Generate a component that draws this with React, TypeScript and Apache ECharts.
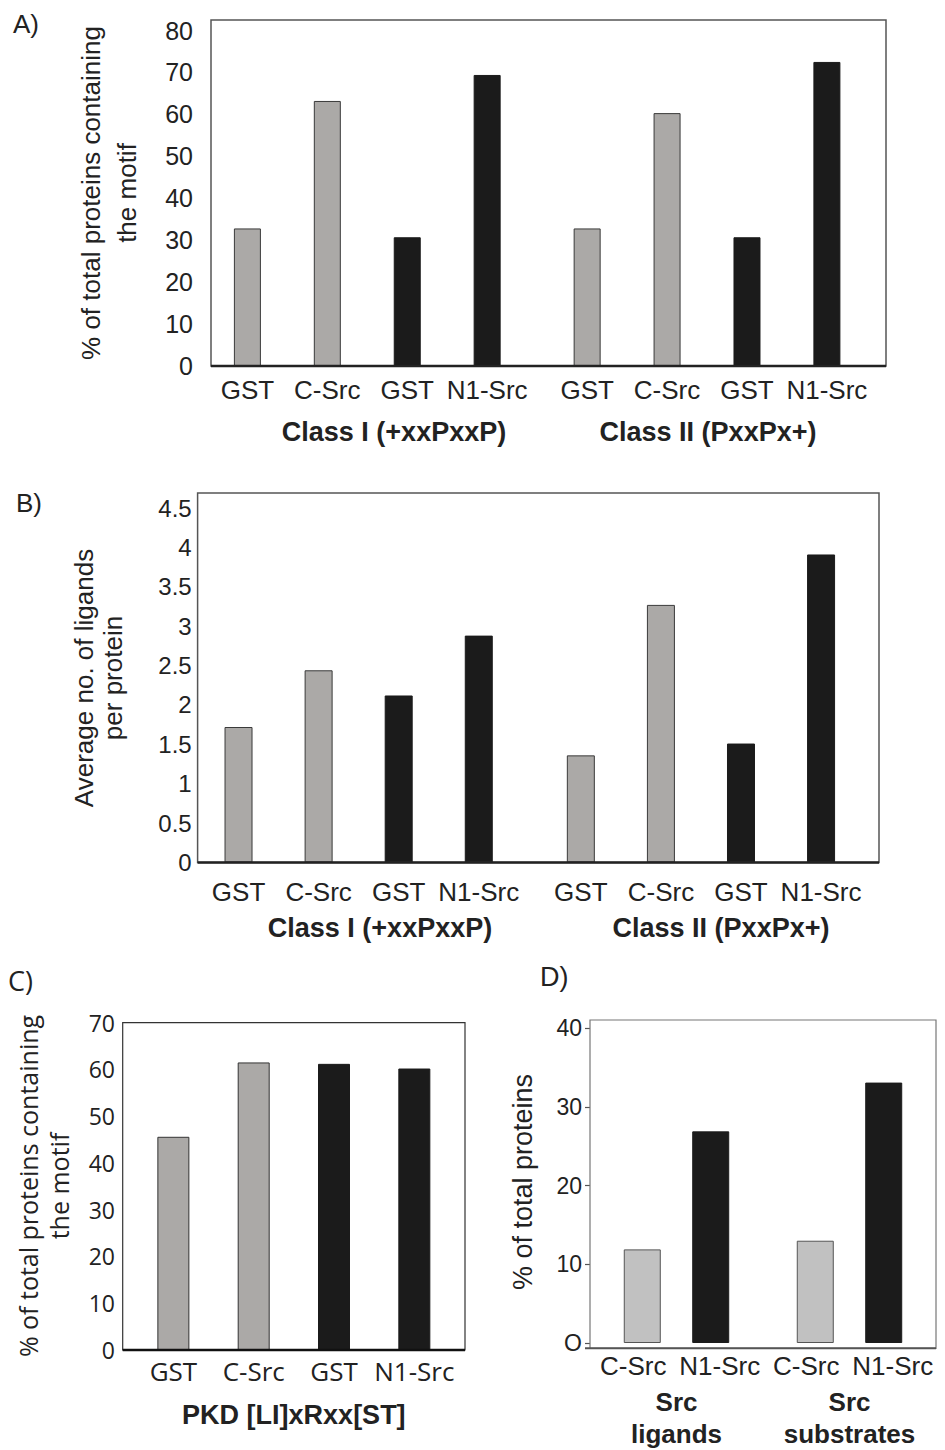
import React, { useEffect, useRef } from "react";
import * as echarts from "echarts";

// ---------- data ----------
const classGroups = ["Class I (+xxPxxP)", "Class II (PxxPx+)"];
const abBarNames = ["GST", "C-Src", "GST", "N1-Src"];

// Panel A: % of total proteins containing the motif
const aGstGray = [32.8, 32.8];
const aCSrc = [63.2, 60.3];
const aGstBlack = [30.7, 30.7];
const aN1Src = [69.4, 72.5];

// Panel B: average no. of ligands per protein
const bGstGray = [1.72, 1.36];
const bCSrc = [2.44, 3.27];
const bGstBlack = [2.12, 1.51];
const bN1Src = [2.88, 3.91];

// Panel C: PKD motif
const cGroup = ["PKD [LI]xRxx[ST]"];
const cGstGray = [45.6];
const cCSrc = [61.5];
const cGstBlack = [61.2];
const cN1Src = [60.2];

// Panel D: Src ligands / substrates
const dGroups = ["Src\nligands", "Src\nsubstrates"];
const dBarNames = ["C-Src", "N1-Src", "C-Src", "N1-Src"];
const dCSrc = [11.9, 13.0];
const dN1Src = [26.9, 33.1];

// ---------- styling ----------
const SANS = "'Liberation Sans', Arial, Helvetica, sans-serif";
const OPEN = "'Open Sans', 'Noto Sans', sans-serif";
const TXT = "#222";
const GRAY = "#aba9a7";
const BLACK = "#1b1b1b";
const DGRAY = "#c1c1c1";

function barSeries(
  idx: number,
  data: number[],
  color: string,
  width: number,
  gap: string,
  label: string | null,
  labelDist: number,
  labelFont: string,
  labelSize: number,
  border: string
) {
  return {
    type: "bar",
    xAxisIndex: idx,
    yAxisIndex: idx,
    data,
    barWidth: width,
    barGap: gap,
    itemStyle: { color, borderColor: border, borderWidth: 1 },
    label: label
      ? {
          show: true,
          position: "bottom",
          distance: labelDist,
          formatter: label,
          fontFamily: labelFont,
          fontSize: labelSize,
          color: TXT,
        }
      : { show: false },
    silent: true,
  };
}

function boxEls(x: number, y: number, w: number, h: number, stroke: string, lw: number, baseColor: string, baseW: number, baseX0: number) {
  return [
    {
      type: "rect",
      z: 50,
      silent: true,
      shape: { x, y, width: w, height: h },
      style: { fill: "none", stroke, lineWidth: lw },
    },
    {
      type: "line",
      z: 51,
      silent: true,
      shape: { x1: baseX0, y1: y + h, x2: x + w, y2: y + h },
      style: { stroke: baseColor, lineWidth: baseW },
    },
  ];
}

function textEl(text: string, x: number, y: number, font: string, size: number, weight: string, opts: any = {}) {
  return {
    type: "text",
    z: 60,
    silent: true,
    x,
    y,
    rotation: opts.rotation || 0,
    style: {
      text,
      x: 0,
      y: 0,
      fontFamily: font,
      fontSize: size,
      fontWeight: weight,
      fill: TXT,
      align: opts.align || "center",
      textAlign: opts.align || "center",
      verticalAlign: "middle",
      textVerticalAlign: "middle",
      lineHeight: opts.lineHeight || size,
    },
  };
}

export default function App() {
  const ref = useRef<HTMLDivElement>(null);

  useEffect(() => {
    if (!ref.current) return;
    const chart = echarts.init(ref.current, undefined, { renderer: "svg" });

    const hiddenX = (gridIndex: number, data: string[]) => ({
      type: "category",
      gridIndex,
      data,
      position: "bottom",
      axisLine: { show: false, onZero: false },
      axisTick: { show: false },
      axisLabel: { show: false },
      splitLine: { show: false },
    });

    const valueY = (gridIndex: number, max: number, interval: number, font: string, size: number, margin: number, extra: any = {}) => ({
      type: "value",
      gridIndex,
      min: 0,
      max,
      interval,
      axisLine: { show: false },
      axisTick: { show: false },
      splitLine: { show: false },
      axisLabel: { fontFamily: font, fontSize: size, color: TXT, margin },
      ...extra,
    });

    const option: any = {
      animation: false,
      backgroundColor: "#ffffff",
      grid: [
        { left: 197.4, top: 30.5, width: 679.5, height: 335.5 },
        { left: 187.5, top: 508, width: 684.6, height: 354.5 },
        { left: 122.7, top: 1022.7, width: 342.3, height: 327.3 },
        { left: 590, top: 1028.3, width: 346, height: 320 },
      ],
      xAxis: [
        hiddenX(0, classGroups),
        hiddenX(1, classGroups),
        {
          type: "category",
          gridIndex: 2,
          data: cGroup,
          position: "bottom",
          axisLine: { show: false, onZero: false },
          axisTick: { show: false },
          splitLine: { show: false },
          axisLabel: { fontFamily: SANS, fontSize: 27, fontWeight: "bold", color: TXT, margin: 51 },
        },
        {
          type: "category",
          gridIndex: 3,
          data: dGroups,
          position: "bottom",
          axisLine: { show: false, onZero: false },
          axisTick: { show: false },
          splitLine: { show: false },
          axisLabel: { fontFamily: SANS, fontSize: 26, fontWeight: "bold", color: TXT, margin: 43, lineHeight: 32 },
        },
        {
          type: "category",
          gridIndex: 3,
          data: dBarNames,
          position: "bottom",
          axisLine: { show: false, onZero: false },
          axisTick: { show: false },
          splitLine: { show: false },
          axisLabel: { fontFamily: SANS, fontSize: 26, color: TXT, margin: 10, interval: 0 },
        },
      ],
      yAxis: [
        valueY(0, 80, 10, SANS, 25, 4.4),
        valueY(1, 4.5, 0.5, SANS, 24, -4.2),
        valueY(2, 70, 10, OPEN, 23, 7.7),
        valueY(3, 40, 10, SANS, 23, 8, {
          axisTick: { show: true, length: 5, lineStyle: { color: "#555", width: 1.2 } },
          axisLabel: {
            fontFamily: SANS,
            fontSize: 23,
            color: TXT,
            margin: 8,
            formatter: (v: number) => (v === 0 ? "O" : String(v)),
          },
        }),
      ],
      series: [
        barSeries(0, aGstGray, GRAY, 27, "196%", abBarNames[0], 11, SANS, 26, "#3a3a3a"),
        barSeries(0, aCSrc, GRAY, 27, "196%", abBarNames[1], 11, SANS, 26, "#3a3a3a"),
        barSeries(0, aGstBlack, BLACK, 27, "196%", abBarNames[2], 11, SANS, 26, BLACK),
        barSeries(0, aN1Src, BLACK, 27, "196%", abBarNames[3], 11, SANS, 26, BLACK),

        barSeries(1, bGstGray, GRAY, 28, "186%", abBarNames[0], 16, SANS, 26, "#3a3a3a"),
        barSeries(1, bCSrc, GRAY, 28, "186%", abBarNames[1], 16, SANS, 26, "#3a3a3a"),
        barSeries(1, bGstBlack, BLACK, 28, "186%", abBarNames[2], 16, SANS, 26, BLACK),
        barSeries(1, bN1Src, BLACK, 28, "186%", abBarNames[3], 16, SANS, 26, BLACK),

        barSeries(2, cGstGray, GRAY, 32, "151%", abBarNames[0], 8, OPEN, 26, "#333"),
        barSeries(2, cCSrc, GRAY, 32, "151%", abBarNames[1], 8, OPEN, 26, "#333"),
        barSeries(2, cGstBlack, BLACK, 32, "151%", abBarNames[2], 8, OPEN, 26, BLACK),
        barSeries(2, cN1Src, BLACK, 32, "151%", abBarNames[3], 8, OPEN, 26, BLACK),

        barSeries(3, dCSrc, DGRAY, 37, "85%", null, 0, SANS, 26, "#555"),
        barSeries(3, dN1Src, BLACK, 37, "85%", null, 0, SANS, 26, BLACK),
      ],
      graphic: [
        // boxes and zero lines
        ...boxEls(211, 20, 675, 346, "#555", 1.5, "#222", 2.5, 211),
        ...boxEls(197.6, 493, 681.4, 369.5, "#555", 1.5, "#222", 2.5, 197.6),
        ...boxEls(122.7, 1022.7, 342.3, 327.3, "#333", 1.2, "#111", 2.5, 122.7),
        ...boxEls(590, 1020, 346, 328.3, "#777", 1.2, "#555", 2, 585),
        // panel letters
        textEl("A)", 13, 24, SANS, 26, "normal", { align: "left" }),
        textEl("B)", 16, 503, SANS, 26, "normal", { align: "left" }),
        textEl("C)", 8, 980, OPEN, 27, "normal", { align: "left" }),
        textEl("D)", 540, 977, SANS, 27, "normal", { align: "left" }),
        // y titles
        textEl("% of total proteins containing\nthe motif", 109, 193, SANS, 26, "normal", {
          rotation: Math.PI / 2,
          lineHeight: 36,
        }),
        textEl("Average no. of ligands\nper protein", 98, 678, SANS, 26, "normal", {
          rotation: Math.PI / 2,
          lineHeight: 29,
        }),
        textEl("% of total proteins containing\nthe motif", 43, 1186, OPEN, 25, "normal", {
          rotation: Math.PI / 2,
          lineHeight: 31,
        }),
        textEl("% of total proteins", 523, 1182, SANS, 27, "normal", { rotation: Math.PI / 2 }),
        // class labels for A and B
        textEl(classGroups[0], 394, 432, SANS, 27, "bold"),
        textEl(classGroups[1], 708, 432, SANS, 27, "bold"),
        textEl(classGroups[0], 380, 928, SANS, 27, "bold"),
        textEl(classGroups[1], 721, 928, SANS, 27, "bold"),
      ],
    };

    chart.setOption(option);
    return () => chart.dispose();
  }, []);

  return (
    <div
      ref={ref}
      style={{ position: "absolute", left: 0, top: 0, width: 945, height: 1450, background: "#fff" }}
    />
  );
}
